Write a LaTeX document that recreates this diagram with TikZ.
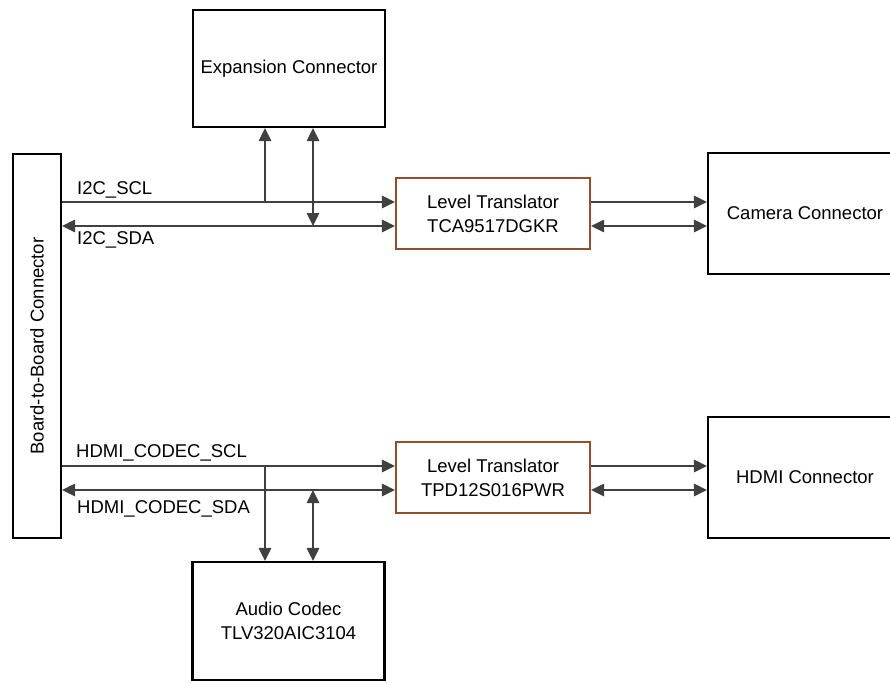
\documentclass[tikz,border=0pt]{standalone}
\usepackage{fontspec}
\setmainfont{Liberation Sans}
\usetikzlibrary{arrows.meta,calc}
\definecolor{wirecol}{RGB}{64,64,64}
\definecolor{ltcol}{RGB}{145,80,45}
\begin{document}
\begin{tikzpicture}[x=1pt,y=-1pt,
  every node/.style={font=\fontsize{18.5}{24}\selectfont, text=black},
  blk/.style={draw=black, line width=2.2pt, fill=white, inner sep=0pt, align=center},
  ltbox/.style={draw=ltcol, line width=2.2pt, fill=white, inner sep=0pt, align=center, minimum width=194pt, minimum height=71pt},
  tip/.tip={Triangle[length=13pt,width=12.5pt]},
  wire/.style={draw=wirecol, line width=1.3pt, -tip},
  wire2/.style={draw=wirecol, line width=1.3pt, tip-tip},
  lbl/.style={anchor=base west, inner sep=0pt}]
\useasboundingbox (0,0) rectangle (890,682);
\node[blk, minimum width=48pt, minimum height=384pt] (b2b) at (37,346) {};
\node[rotate=90] (b2bt) at (b2b.center) {Board-to-Board Connector};
\node[blk, minimum width=192pt, minimum height=117pt] (exp) at (289,68.5) {Expansion Connector};
\node[ltbox] (lt1) at (493,213.5) {Level Translator\\TCA9517DGKR};
\node[blk, minimum width=194pt, minimum height=121pt] (cam) at (805,213.5) {Camera Connector};
\node[ltbox] (lt2) at (493,477.5) {Level Translator\\TPD12S016PWR};
\node[blk, minimum width=194pt, minimum height=121pt] (hdmi) at (805,477.5) {HDMI Connector};
\node[blk, minimum width=192pt, minimum height=118pt] (codec) at (288.5,621) {Audio Codec\\TLV320AIC3104};
% rails
\coordinate (scl1) at (265,202);
\coordinate (sda1) at (313,226);
\coordinate (scl2) at (265,466);
\coordinate (sda2) at (313,490);
% top group
\draw[wire] (b2b.east |- scl1) -- (lt1.west |- scl1);
\draw[wire2] (b2b.east |- sda1) -- (lt1.west |- sda1);
\draw[wire] (scl1) -- (exp.south -| scl1);
\draw[wire2] (exp.south -| sda1) -- (sda1);
\draw[wire] (lt1.east |- scl1) -- (cam.west |- scl1);
\draw[wire2] (lt1.east |- sda1) -- (cam.west |- sda1);
% bottom group
\draw[wire] (b2b.east |- scl2) -- (lt2.west |- scl2);
\draw[wire2] (b2b.east |- sda2) -- (lt2.west |- sda2);
\draw[wire] (scl2) -- (codec.north -| scl2);
\draw[wire2] (sda2) -- (codec.north -| sda2);
\draw[wire] (lt2.east |- scl2) -- (hdmi.west |- scl2);
\draw[wire2] (lt2.east |- sda2) -- (hdmi.west |- sda2);
% labels
\node[lbl] (l1) at (77,194) {I2C\_SCL};
\node[lbl] (l2) at (77,244) {I2C\_SDA};
\node[lbl] (l3) at (76,457) {HDMI\_CODEC\_SCL};
\node[lbl] (l4) at (77,513) {HDMI\_CODEC\_SDA};
\end{tikzpicture}
\end{document}
